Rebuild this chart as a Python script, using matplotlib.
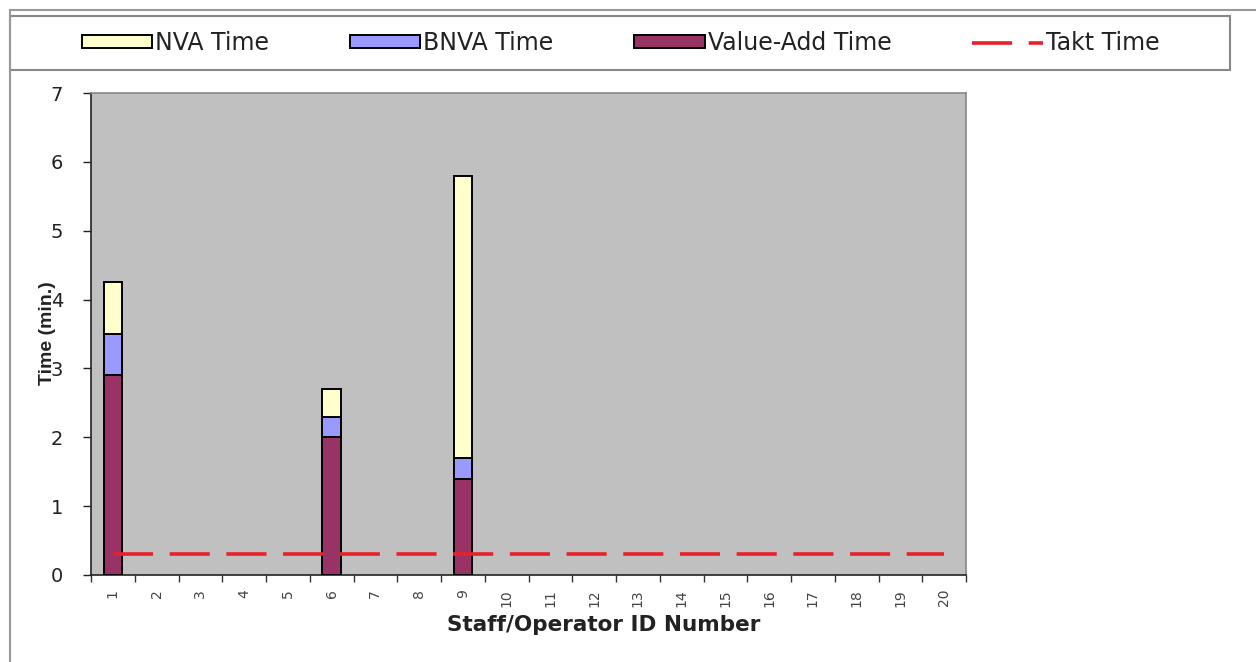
import matplotlib
matplotlib.use("Agg")
import matplotlib.pyplot as plt
from matplotlib.patches import Patch, Rectangle
from matplotlib.lines import Line2D
import numpy as np

plt.rcParams['font.family'] = ['DejaVu Sans']

# Staff/operator IDs and time breakdown (minutes)
operator_ids = [str(i) for i in range(1, 21)]
value_add = [2.9, 0, 0, 0, 0, 2.0, 0, 0, 1.4, 0, 0, 0, 0, 0, 0, 0, 0, 0, 0, 0]
bnva = [0.6, 0, 0, 0, 0, 0.3, 0, 0, 0.3, 0, 0, 0, 0, 0, 0, 0, 0, 0, 0, 0]
nva = [0.75, 0, 0, 0, 0, 0.4, 0, 0, 4.1, 0, 0, 0, 0, 0, 0, 0, 0, 0, 0, 0]
takt_time = [0.3] * 20

col_nva = '#FFFFCC'
col_bnva = '#9999FF'
col_va = '#993366'
col_takt = '#E8202A'
takt_lw = 2.6
takt_dash = (11.1, 4.6)

fig = plt.figure(figsize=(12.56, 6.62), dpi=100)
fig.patch.set_facecolor('white')

W, H = 1256, 662
ax = fig.add_axes([91 / W, 1 - 575 / H, (966 - 91) / W, (575 - 93) / H])
ax.set_facecolor('#C0C0C0')

x = np.arange(len(operator_ids))
va = np.array(value_add)
bn = np.array(bnva)
nv = np.array(nva)
mask = (va + bn + nv) > 0
bw = 0.42
ax.bar(x[mask], va[mask], bw, color=col_va, edgecolor='black', linewidth=1.4, zorder=3)
ax.bar(x[mask], bn[mask], bw, bottom=va[mask], color=col_bnva, edgecolor='black', linewidth=1.4, zorder=3)
ax.bar(x[mask], nv[mask], bw, bottom=(va + bn)[mask], color=col_nva, edgecolor='black', linewidth=1.4, zorder=3)

ax.plot(x, takt_time, color=col_takt, linewidth=takt_lw, dashes=takt_dash, zorder=4,
        dash_capstyle='butt')

ax.set_xlim(-0.5, len(operator_ids) - 0.5)
ax.set_ylim(0, 7)
ax.set_yticks(range(0, 8))
ax.tick_params(axis='y', labelsize=14, length=6, width=1, direction='out', pad=14, colors='#222222')
ax.set_xticks(x)
ax.set_xticklabels(operator_ids, rotation=90, fontsize=10, color='#444444')
ax.tick_params(axis='x', which='major', length=0, pad=10)
ax.set_xticks(np.arange(-0.5, len(operator_ids) + 0.5, 1), minor=True)
ax.tick_params(axis='x', which='minor', length=5, width=1, direction='out', color='#333333')

for s in ['left', 'bottom']:
    ax.spines[s].set_color('#222222')
    ax.spines[s].set_linewidth(1.2)
for s in ['top', 'right']:
    ax.spines[s].set_color('#888888')
    ax.spines[s].set_linewidth(1.2)

fig.text(47 / W, 1 - 333 / H, 'Time (min.)', rotation=90, ha='center', va='center',
         fontsize=14, fontweight='bold', color='#222222', family='Liberation Sans')
fig.text(604 / W, 1 - 625 / H, 'Staff/Operator ID Number', ha='center', va='center',
         fontsize=15.5, fontweight='bold', color='#222222')

# outer frame lines
fig.add_artist(Line2D([10 / W, 1.0], [1 - 10 / H, 1 - 10 / H], color='#999999', lw=1.5))
fig.add_artist(Line2D([10 / W, 10 / W], [0, 1 - 10 / H], color='#999999', lw=1.5))

# legend box
fig.add_artist(Rectangle((10 / W, 1 - 70 / H), (1230 - 10) / W, (70 - 16) / H,
                         transform=fig.transFigure, facecolor='white',
                         edgecolor='#888888', lw=1.5))
handles = [
    Patch(facecolor=col_nva, edgecolor='black', linewidth=1.4),
    Patch(facecolor=col_bnva, edgecolor='black', linewidth=1.4),
    Patch(facecolor=col_va, edgecolor='black', linewidth=1.4),
    Line2D([0], [0], color=col_takt, lw=takt_lw, dashes=takt_dash, dash_capstyle='butt'),
]
labels = ['NVA Time', 'BNVA Time', 'Value-Add Time', 'Takt Time']
leg = fig.legend(handles, labels, loc='center left', bbox_to_anchor=(60.6 / W, 1 - 43 / H),
                 ncol=4, frameon=False, fontsize=17, handlelength=2.97, handleheight=0.42,
                 handletextpad=0.13, columnspacing=3.43)
for t in leg.get_texts():
    t.set_color('#222222')

fig.savefig('out.png', dpi=100, facecolor='white')
